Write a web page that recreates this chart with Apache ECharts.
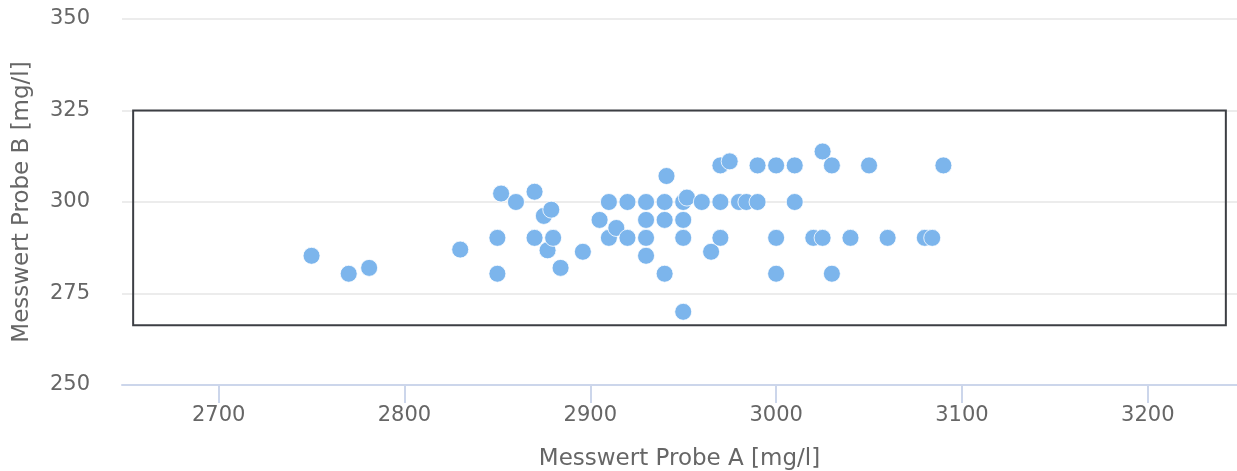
<!DOCTYPE html>
<html>
<head>
<meta charset="utf-8">
<script src="https://cdn.jsdelivr.net/npm/echarts@6/dist/echarts.min.js"></script>
<style>
  html, body { margin: 0; padding: 0; background: #fff; }
  #chart { width: 1237px; height: 471px; }
</style>
</head>
<body>
<div id="chart"></div>
<script>
const probeA = [
  2750, 2770, 2781, 2830, 2850, 2850, 2852, 2860, 2870, 2870,
  2875, 2879, 2877, 2880, 2884, 2896, 2905, 2910, 2910, 2914,
  2920, 2920, 2930, 2930, 2930, 2930, 2940, 2940, 2940, 2941,
  2950, 2950, 2950, 2950, 2952, 2960, 2965, 2970, 2970, 2970,
  2975, 2980, 2984, 2990, 2990, 3000, 3000, 3000, 3010, 3010,
  3020, 3025, 3025, 3030, 3030, 3040, 3050, 3060, 3080, 3084,
  3090
]
const probeB = [
  285.3, 280.4, 282, 287, 290.2, 280.4, 302.3, 300, 302.8, 290.2,
  296.2, 297.9, 286.8, 290.2, 282, 286.4, 295.1, 300, 290.2, 292.9,
  300, 290.2, 300, 295.1, 290.2, 285.3, 280.4, 300, 295.1, 307.1,
  270, 300, 295.1, 290.2, 301.2, 300, 286.4, 310, 300, 290.2,
  311.1, 300, 300, 310, 300, 310, 290.2, 280.4, 310, 300,
  290.2, 313.8, 290.2, 310, 280.4, 290.2, 310, 290.2, 290.2, 290.2,
  310
]
// Bereich (Rechteck): [A min, B min], [A max, B max]
const rangeMin = [2654, 266.3]
const rangeMax = [3242, 325]
const xTicks = [2700, 2800, 2900, 3000, 3100, 3200]

const points = probeA.map((a, i) => [a, probeB[i]])

const chart = echarts.init(document.getElementById('chart'))
const font = 'DejaVu Sans'

chart.setOption({
  animation: false,
  grid: { left: 122, right: 0, top: 19, bottom: 86, outerBoundsMode: 'none', containLabel: false },
  xAxis: {
    type: 'value',
    min: 2648,
    max: 3248,
    name: 'Messwert Probe A [mg/l]',
    nameLocation: 'middle',
    nameGap: 63,
    nameTextStyle: { color: '#666', fontSize: 23, fontFamily: font },
    axisLine: { show: true, lineStyle: { color: '#ccd6eb', width: 2 } },
    axisTick: { show: true, length: 18, customValues: xTicks, lineStyle: { color: '#ccd6eb', width: 2 } },
    axisLabel: {
      customValues: xTicks, color: '#666', fontSize: 21, fontFamily: font, margin: 20,
      formatter: v => String(v)
    },
    splitLine: { show: false }
  },
  yAxis: {
    type: 'value',
    min: 250,
    max: 350,
    interval: 25,
    name: 'Messwert Probe B [mg/l]',
    nameLocation: 'middle',
    nameGap: 88,
    nameTextStyle: { color: '#666', fontSize: 23, fontFamily: font },
    axisLine: { show: false },
    axisTick: { show: false },
    axisLabel: { color: '#666', fontSize: 21, fontFamily: font, margin: 32 },
    splitLine: { lineStyle: { color: '#e6e6e6', width: 1.5 } }
  },
  series: [{
    type: 'scatter',
    symbolSize: 17,
    itemStyle: { color: '#7cb5ec', borderColor: '#fff', borderWidth: 0.8, opacity: 1 },
    data: points,
    markArea: {
      silent: true,
      itemStyle: { color: 'rgba(0,0,0,0)', borderColor: '#3c3f44', borderWidth: 2 },
      data: [[{ coord: rangeMin }, { coord: rangeMax }]]
    }
  }]
})
</script>
</body>
</html>
